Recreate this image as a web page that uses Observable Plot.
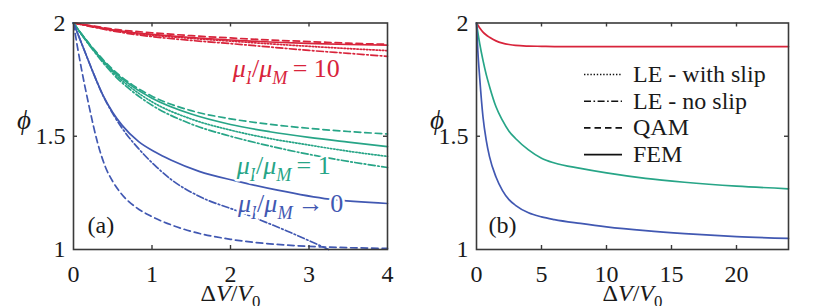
<!DOCTYPE html>
<html><head><meta charset="utf-8">
<script src="https://cdn.jsdelivr.net/npm/d3@7"></script>
<script src="https://cdn.jsdelivr.net/npm/@observablehq/plot@0.6"></script>
<style>
html,body{margin:0;padding:0;background:#fff;}
#wrap{position:relative;width:835px;height:306px;overflow:hidden;background:#fff;font-family:'Liberation Serif';}
#wrap > svg{position:absolute;top:0;}
#wrap text, #wrap tspan{font-family:'Liberation Serif', serif;}
</style></head>
<body><div id="wrap"></div>
<script>
if (document.fonts) {
  ["24px 'Liberation Serif'", "italic 24px 'Liberation Serif'"].forEach(f => { try { document.fonts.load(f); } catch (e) {} });
}
// ---------- Panel (a) data: phi vs ΔV/V0 for three viscosity ratios ----------
const xA = [0, 0.1, 0.25, 0.5, 0.75, 1, 1.5, 2, 2.5, 3, 3.5, 4];
// μI/μM = 10
const redFEM      = [2, 1.994, 1.985, 1.970, 1.958, 1.950, 1.936, 1.925, 1.916, 1.910, 1.905, 1.902];
const redQAM      = [2, 1.995, 1.987, 1.973, 1.964, 1.957, 1.944, 1.934, 1.925, 1.918, 1.911, 1.906];
const redLEslip   = [2, 1.994, 1.984, 1.968, 1.955, 1.946, 1.932, 1.920, 1.908, 1.897, 1.887, 1.878];
const redLEnoslip = [2, 1.993, 1.982, 1.965, 1.951, 1.940, 1.923, 1.909, 1.894, 1.879, 1.866, 1.853];
// μI/μM = 1
const tealFEM      = [2, 1.952, 1.885, 1.790, 1.720, 1.668, 1.598, 1.552, 1.520, 1.495, 1.474, 1.454];
const tealQAM      = [2, 1.953, 1.888, 1.795, 1.727, 1.677, 1.613, 1.577, 1.553, 1.535, 1.521, 1.510];
const tealLEslip   = [2, 1.951, 1.883, 1.783, 1.710, 1.652, 1.576, 1.527, 1.490, 1.461, 1.434, 1.411];
const tealLEnoslip = [2, 1.950, 1.880, 1.776, 1.698, 1.637, 1.554, 1.500, 1.457, 1.420, 1.389, 1.362];
// μI/μM -> 0
const xBlueFEM = [0, 0.12, 0.24, 0.37, 0.5, 0.62, 0.83, 1.04, 1.24, 1.6, 2.08, 2.6, 3.26, 4];
const blueFEM  = [2, 1.895, 1.79, 1.685, 1.605, 1.548, 1.476, 1.43, 1.395, 1.345, 1.302, 1.262, 1.222, 1.203];
const xBlueNoslip  = [0, 0.12, 0.24, 0.37, 0.5, 0.62, 0.83, 1.04, 1.24, 1.6, 2.08, 2.71, 3.25];
const blueLEnoslip = [2, 1.895, 1.79, 1.684, 1.600, 1.535, 1.445, 1.370, 1.310, 1.235, 1.171, 1.083, 1.0];
const xBlueQAM = [0, 0.05, 0.1, 0.2, 0.3, 0.4, 0.5, 0.6, 0.8, 1, 1.25, 1.5, 2, 2.5, 3, 3.5, 4];
const blueQAM  = [2, 1.895, 1.80, 1.63, 1.48, 1.37, 1.30, 1.25, 1.185, 1.145, 1.108, 1.08, 1.045, 1.025, 1.014, 1.008, 1.005];

// ---------- Panel (b) data: FEM over a long range ----------
const xB = [0, 0.1, 0.25, 0.5, 0.75, 1, 1.5, 2, 2.5, 3, 4, 5, 6, 8, 10, 13, 16, 20, 24];
const redB  = [2, 1.991, 1.978, 1.960, 1.947, 1.937, 1.921, 1.911, 1.905, 1.901, 1.898, 1.897, 1.896, 1.896, 1.896, 1.896, 1.896, 1.896, 1.896];
const tealB = [2, 1.960, 1.908, 1.835, 1.772, 1.720, 1.630, 1.570, 1.522, 1.490, 1.440, 1.403, 1.382, 1.358, 1.338, 1.314, 1.297, 1.280, 1.268];
const blueB = [2, 1.880, 1.755, 1.585, 1.482, 1.410, 1.320, 1.260, 1.220, 1.195, 1.162, 1.144, 1.132, 1.115, 1.100, 1.083, 1.070, 1.057, 1.049];

// ---------- Ticks / labels ----------
const xTicksA = [0, 1, 2, 3, 4];
const xTicksB = [0, 5, 10, 15, 20];
const yTicks = [1, 1.5, 2];
const xInnerA = [1, 2, 3];
const xInnerB = [5, 10, 15, 20];
const yInner = [1.5];
const ratioLabels = [
  {x: 2.03, y: 1.761, c: "red",  rel: "=", num: "10"},
  {x: 2.08, y: 1.334, c: "teal", rel: "=", num: "1"},
  {x: 2.095, y: 1.165, c: "blue", rel: "\u2192", num: "0"}
];
const legendNames = ["LE - with slip", "LE - no slip", "QAM", "FEM"];
const legendStyles = ["LEslip", "LEnoslip", "QAM", "FEM"];

// ---------- Styles ----------
const FONT = "Liberation Serif";
const TXT = "#1a1a1a";
const FRAME = "#3a3a3a";
const colors = {red: "#d8243b", teal: "#27a587", blue: "#4158b2"};
const dash = {FEM: null, QAM: "6.5,4", LEnoslip: "7,2.5,1.6,2.5", LEslip: "1.4,1.8"};
const FS = 24;

function lineMark(xs, ys, color, style) {
  const rows = xs.map((x, i) => ({x, y: ys[i]}));
  const o = {x: "x", y: "y", stroke: colors[color], strokeWidth: 1.7, curve: "monotone-x"};
  if (dash[style]) o.strokeDasharray = dash[style];
  return Plot.line(rows, o);
}
function innerTicks(xt, yt, fw, fh) {
  const s = {stroke: FRAME, strokeWidth: 1.4};
  return [
    Plot.tickX(xt, {x: d => d, insetTop: fh - 4, ...s}),
    Plot.tickX(xt, {x: d => d, insetBottom: fh - 4, ...s}),
    Plot.tickY(yt, {y: d => d, insetRight: fw - 4, ...s}),
    Plot.tickY(yt, {y: d => d, insetLeft: fw - 4, ...s})
  ];
}
function commonText(phiDx, panel) {
  return [
    Plot.axisX({ticks: panel === "a" ? xTicksA : xTicksB, tickFormat: d => String(d), tickSize: 0, tickPadding: 15, label: null, fontSize: FS, fontFamily: FONT}),
    Plot.axisY({ticks: yTicks, tickFormat: d => String(d), tickSize: 0, tickPadding: 8, label: null, fontSize: FS, fontFamily: FONT}),
    Plot.text(["\u03D5"], {text: d => d, frameAnchor: "left", dx: phiDx, dy: -16, textAnchor: "middle", lineAnchor: "middle", fontSize: 27, fontStyle: "italic", fill: TXT, fontFamily: FONT}),
    Plot.text(["\u0394V/V0"], {text: d => d, frameAnchor: "bottom", dy: 51, textAnchor: "middle", lineAnchor: "bottom", fontSize: FS, fill: TXT, fontFamily: FONT}),
    Plot.text([panel === "a" ? "(a)" : "(b)"], {text: d => d, frameAnchor: "bottom-left", dx: panel === "a" ? 14 : 12, dy: -17, textAnchor: "start", lineAnchor: "bottom", fontSize: FS, fill: TXT, fontFamily: FONT})
  ];
}

const W = 417, H = 306, MT = 22.5, MB = 57;
const style = {fontFamily: FONT, fontSize: FS + "px", color: TXT, background: "white", overflow: "visible"};

// ---------- Panel (a) ----------
const fwA = W - 73 - 30, fh = H - MT - MB;
const plotA = Plot.plot({
  width: W, height: H, marginLeft: 73, marginRight: 30, marginTop: MT, marginBottom: MB,
  x: {domain: [0, 4]}, y: {domain: [1, 2]}, style,
  marks: [
    lineMark(xA, redFEM, "red", "FEM"),
    lineMark(xA, redQAM, "red", "QAM"),
    lineMark(xA, redLEslip, "red", "LEslip"),
    lineMark(xA, redLEnoslip, "red", "LEnoslip"),
    lineMark(xA, tealFEM, "teal", "FEM"),
    lineMark(xA, tealQAM, "teal", "QAM"),
    lineMark(xA, tealLEslip, "teal", "LEslip"),
    lineMark(xA, tealLEnoslip, "teal", "LEnoslip"),
    lineMark(xBlueFEM, blueFEM, "blue", "FEM"),
    lineMark(xBlueQAM, blueQAM, "blue", "QAM"),
    lineMark(xBlueNoslip, blueLEnoslip, "blue", "LEnoslip"),
    ...ratioLabels.map(l => Plot.text([l], {x: "x", y: "y", text: d => "\u03BCI/\u03BCM " + d.rel + " " + d.num,
      fill: colors[l.c], stroke: "white", strokeWidth: 5, textAnchor: "start", lineAnchor: "bottom", fontSize: 26, fontFamily: FONT})),
    Plot.frame({stroke: FRAME, strokeWidth: 1.6}),
    ...innerTicks(xInnerA, yInner, fwA, fh),
    ...commonText(-49.5, "a")
  ]
});
plotA.style.left = "0px";

// ---------- Panel (b) ----------
const fwB = W - 58 - 47;
const plotB = Plot.plot({
  width: W, height: H, marginLeft: 58, marginRight: 47, marginTop: MT, marginBottom: MB,
  x: {domain: [0, 24]}, y: {domain: [1, 2]}, style,
  marks: [
    lineMark(xB, redB, "red", "FEM"),
    lineMark(xB, tealB, "teal", "FEM"),
    lineMark(xB, blueB, "blue", "FEM"),
    Plot.frame({stroke: FRAME, strokeWidth: 1.6}),
    ...innerTicks(xInnerB, yInner, fwB, fh),
    ...commonText(-39.5, "b")
  ]
});
plotB.style.left = "418px";

const wrap = document.getElementById("wrap");
wrap.appendChild(plotA);
wrap.appendChild(plotB);

// ---------- Rich text (italic math, subscripts) ----------
function rich(node, parts, fs) {
  const t = d3.select(node);
  t.text(null);
  let cur = 0;
  for (const p of parts) {
    const s = t.append("tspan").text(p.t);
    if (p.i) s.style("font-style", "italic");
    if (p.sub) s.style("font-size", (0.7 * fs) + "px");
    const target = p.sub ? 0.28 * fs : 0;
    if (target !== cur) { s.attr("dy", target - cur); cur = target; }
  }
}
d3.selectAll("#wrap svg text").each(function () {
  const s = this.textContent;
  if (s === "\u0394V/V0") {
    rich(this, [{t: "\u0394"}, {t: "V", i: 1}, {t: "/"}, {t: "V", i: 1}, {t: "0", sub: 1}], FS);
  } else if (s.startsWith("\u03BCI/\u03BCM")) {
    const rest = s.slice(6);
    rich(this, [{t: "\u03BC", i: 1}, {t: "I", i: 1, sub: 1}, {t: "/"}, {t: "\u03BC", i: 1}, {t: "M", i: 1, sub: 1}, {t: "\u2009" + rest}], 26);
  }
});

// ---------- Legend (panel b) ----------
const lg = d3.select(plotB).append("g").attr("font-family", FONT).attr("font-size", FS)
  .attr("fill", TXT).attr("text-anchor", "start");
legendNames.forEach((name, i) => {
  const yb = 82 + 26.7 * i;
  const ln = lg.append("line").attr("x1", 166).attr("x2", 204).attr("y1", yb - 7.5).attr("y2", yb - 7.5)
    .attr("stroke", "#111").attr("stroke-width", 1.6);
  if (dash[legendStyles[i]]) ln.attr("stroke-dasharray", dash[legendStyles[i]]);
  lg.append("text").attr("x", 215).attr("y", yb).text(name);
});

// force the serif family on every text element and lay the text out right away
d3.selectAll("#wrap svg text, #wrap svg tspan").each(function () {
  this.style.setProperty("font-family", FONT);
});
d3.selectAll("#wrap svg text").each(function () {
  try { this.getComputedTextLength(); this.getBBox(); } catch (e) {}
});
</script>
</body></html>
